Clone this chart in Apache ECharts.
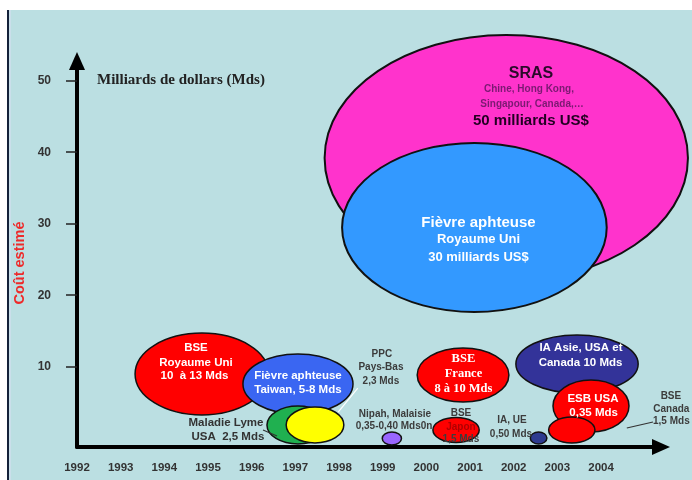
<!DOCTYPE html>
<html><head><meta charset="utf-8">
<script src="https://cdn.jsdelivr.net/npm/echarts@6/dist/echarts.min.js"></script>
<style>html,body{margin:0;padding:0;background:#fff}#c{width:692px;height:480px}</style>
</head><body><div id="c"></div>
<script>
// Axis tick labels
const years = [1992,1993,1994,1995,1996,1997,1998,1999,2000,2001,2002,2003,2004];
const yTicks = [10,20,30,40,50];

// Bubbles (ellipses): centre and half-extent in axis units
const bubbleNames = ['SRAS','Fièvre aphteuse RU','BSE RU','Fièvre aphteuse Taiwan','Maladie Lyme','PPC Pays-Bas','Nipah','BSE France','BSE Japon','IA UE','IA Asie','ESB USA','BSE Canada'];
const bubbleX  = [2001.83, 2001.10, 1994.86, 1997.06, 1997.06, 1997.45, 1999.21, 2000.84, 2000.68, 2002.57, 2003.45, 2003.77, 2003.33];
const bubbleY  = [39.19, 29.47, 8.98, 7.58, 1.85, 1.85, -0.04, 8.84, 1.15, 0.03, 10.38, 4.50, 1.15];
const bubbleRX = [4.16, 3.03, 1.53, 1.26, 0.71, 0.66, 0.22, 1.05, 0.53, 0.19, 1.40, 0.87, 0.53];
const bubbleRY = [17.20, 11.82, 5.73, 4.20, 2.66, 2.52, 0.91, 3.78, 1.75, 0.84, 4.06, 3.64, 1.82];
const bubbleColors = ['#ff33cc','#3399ff','#ff0000','#3a66f2','#20b050','#ffff00','#9966ff','#ff0000','#ff0000','#2e3a8f','#333399','#ff0000','#ff0000'];

// Annotation texts
const annoText = ['SRAS','Chine, Hong Kong,','Singapour, Canada,…','50 milliards US$',
  'Fièvre aphteuse','Royaume Uni','30 milliards US$',
  'BSE','Royaume Uni','10  à 13 Mds',
  'Fièvre aphteuse','Taiwan, 5-8 Mds',
  'Maladie Lyme','USA  2,5 Mds',
  'PPC','Pays-Bas','2,3 Mds',
  'Nipah, Malaisie','0,35-0,40 Mds0n',
  'BSE','France','8 à 10 Mds',
  'BSE','Japon','1,5 Mds',
  'IA, UE','0,50 Mds',
  'IA Asie, USA et','Canada 10 Mds',
  'ESB USA','0,35 Mds',
  'BSE','Canada','1,5 Mds'];
const annoX = [2002.395,2002.35,2002.42,2002.395,
  2001.193,2001.193,2001.193,
  1994.724,1994.724,1994.69,
  1997.059,1997.059,
  1995.411,1995.456,
  1998.98,1998.96,1998.96,
  1999.28,1999.26,
  2000.849,2000.849,2000.849,
  2000.792,2000.792,2000.792,
  2001.96,2001.937,
  2003.54,2003.53,
  2003.815,2003.83,
  2005.60,2005.61,2005.61];
const annoY = [50.94,48.85,46.74,44.36,
  30.10,27.86,25.34,
  12.62,10.56,8.70,
  8.70,6.74,
  2.17,0.21,
  11.78,9.96,8.00,
  3.38,1.71,
  11.08,8.98,6.88,
  3.52,1.57,-0.11,
  2.55,0.59,
  12.62,10.56,
  5.48,3.57,
  5.90,4.08,2.41];
const annoKind = ['srasTitle','srasSub','srasSub','srasVal',
  'whiteBig','whiteMid','whiteMid',
  'white','white','white',
  'white','white',
  'gray','gray',
  'graySmall','graySmall','graySmall',
  'graySmall','graySmall',
  'serifWhite','serifWhite','serifWhite',
  'graySmall','darkRed','graySmall',
  'graySmall','graySmall',
  'white','white',
  'white','white',
  'graySmall','graySmall','graySmall'];

// Leader lines [x1, y1, x2, y2]
const leaderLines = [
  [1996.26, 1.15, 1996.58, 0.31],
  [1998.43, 7.02, 1997.98, 3.66],
  [2005.19, 2.27, 2004.59, 1.43]
];
const leaderColors = ['#333333','#ffffff','#333333'];

const SANS = '"Liberation Sans", Arial, sans-serif';
const SERIF = '"Liberation Serif", "Times New Roman", serif';
const textStyles = {
  srasTitle: {font: 'bold 16px ' + SANS, color: '#2a0a2a'},
  srasSub:   {font: 'bold 10px ' + SANS, color: '#7b1a72'},
  srasVal:   {font: 'bold 15px ' + SANS, color: '#220022'},
  whiteBig:  {font: 'bold 15px ' + SANS, color: '#ffffff'},
  whiteMid:  {font: 'bold 13px ' + SANS, color: '#ffffff'},
  white:     {font: 'bold 11.5px ' + SANS, color: '#ffffff'},
  serifWhite:{font: 'bold 12.5px ' + SERIF, color: '#ffffff'},
  gray:      {font: 'bold 11.5px ' + SANS, color: '#333333'},
  graySmall: {font: 'bold 10px ' + SANS, color: '#3c3c3c'},
  darkRed:   {font: 'bold 10px ' + SANS, color: '#b00000'}
};

const chart = echarts.init(document.getElementById('c'), null, {renderer: 'canvas'});
chart.setOption({
  animation: false,
  backgroundColor: '#bbdfe2',
  graphic: [
    {type: 'rect', shape: {x: 0, y: 0, width: 692, height: 10}, style: {fill: '#ffffff'}, silent: true},
    {type: 'rect', shape: {x: 0, y: 0, width: 7, height: 480}, style: {fill: '#ffffff'}, silent: true},
    {type: 'rect', shape: {x: 7, y: 10, width: 2, height: 470}, style: {fill: '#14223a'}, silent: true},
    {type: 'rect', shape: {x: 9, y: 10, width: 2, height: 470}, style: {fill: '#cadfea'}, silent: true},
    {type: 'text', x: 97, y: 80, style: {text: 'Milliards de dollars (Mds)', font: 'bold 15px ' + SERIF, fill: '#222', align: 'left', verticalAlign: 'middle'}, silent: true},
    {type: 'text', x: 19.5, y: 263, rotation: Math.PI / 2, style: {text: 'Coût estimé', font: 'bold 14.5px ' + SANS, fill: '#ee2a2a', align: 'center', verticalAlign: 'middle'}, silent: true}
  ],
  grid: {left: 77, right: 31, top: 61, bottom: 33},
  xAxis: {
    type: 'value', min: 1992, max: 2005.373,
    axisLine: {show: true, onZero: false, lineStyle: {color: '#000', width: 4}, symbol: ['none', 'triangle'], symbolSize: [16, 18]},
    axisTick: {show: false},
    splitLine: {show: false},
    axisLabel: {customValues: years, formatter: v => String(Math.round(v)), margin: 15, color: '#333', fontWeight: 'bold', fontSize: 11.5, fontFamily: SANS}
  },
  yAxis: {
    type: 'value', min: -1.23, max: 52.76,
    axisLine: {show: true, onZero: false, lineStyle: {color: '#000', width: 4}, symbol: ['none', 'triangle'], symbolSize: [16, 18]},
    axisTick: {show: true, length: 11, customValues: yTicks, lineStyle: {color: '#222', width: 1.5}},
    splitLine: {show: false},
    axisLabel: {customValues: yTicks, margin: 26, color: '#333', fontWeight: 'bold', fontSize: 12, fontFamily: SANS}
  },
  series: [
    {
      type: 'custom', clip: false, silent: true, z: 2,
      data: bubbleNames.map((n, i) => [bubbleX[i], bubbleY[i], bubbleRX[i], bubbleRY[i]]),
      renderItem: (params, api) => {
        const i = params.dataIndex;
        const c = api.coord([api.value(0), api.value(1)]);
        const s = api.size([api.value(2), api.value(3)]);
        return {type: 'ellipse', shape: {cx: c[0], cy: c[1], rx: s[0], ry: s[1]},
          style: {fill: bubbleColors[i], stroke: '#111', lineWidth: i < 2 ? 2 : 1.5}};
      }
    },
    {
      type: 'custom', clip: false, silent: true, z: 3,
      data: leaderLines,
      renderItem: (params, api) => {
        const i = params.dataIndex;
        const p1 = api.coord([api.value(0), api.value(1)]);
        const p2 = api.coord([api.value(2), api.value(3)]);
        return {type: 'line', shape: {x1: p1[0], y1: p1[1], x2: p2[0], y2: p2[1]},
          style: {stroke: leaderColors[i], lineWidth: 1.2}};
      }
    },
    {
      type: 'custom', clip: false, silent: true, z: 4,
      data: annoText.map((t, i) => [annoX[i], annoY[i]]),
      renderItem: (params, api) => {
        const i = params.dataIndex;
        const c = api.coord([api.value(0), api.value(1)]);
        const st = textStyles[annoKind[i]];
        return {type: 'text', x: c[0], y: c[1],
          style: {text: annoText[i], fill: st.color, font: st.font, align: 'center', verticalAlign: 'middle'}};
      }
    }
  ]
});
</script>
</body></html>
